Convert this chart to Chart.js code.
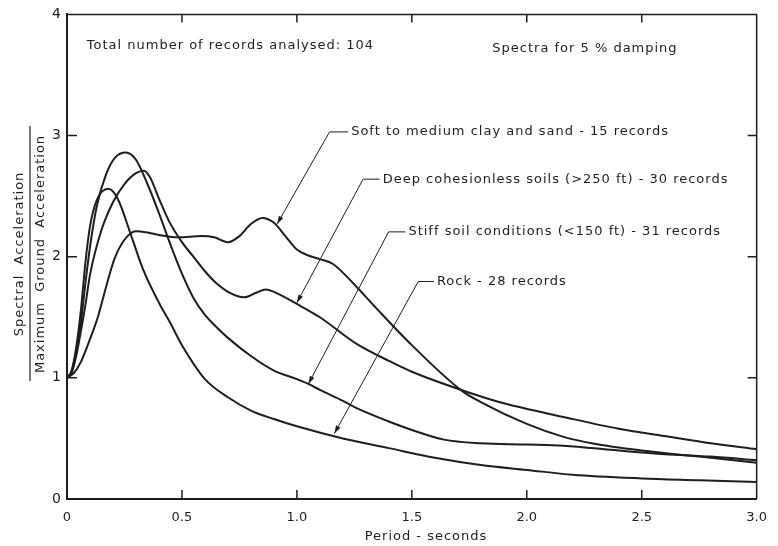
<!DOCTYPE html>
<html>
<head>
<meta charset="utf-8">
<script src="https://cdn.jsdelivr.net/npm/chart.js@4.4.0/dist/chart.umd.min.js"></script>
<style>
  html, body { margin: 0; padding: 0; background: #fff; }
  #wrap { width: 778px; height: 546px; }
</style>
</head>
<body>
<div id="wrap"><canvas id="myChart" width="778" height="546"></canvas></div>
<script>
// Normalised response spectra (Sa / max ground acc.)
const softPeriods = [0, 0.03, 0.06, 0.1, 0.134, 0.17, 0.206, 0.25, 0.3, 0.35, 0.4, 0.485, 0.585, 0.64, 0.7, 0.75, 0.8, 0.85, 0.9, 0.95, 1.0, 1.05, 1.1, 1.157, 1.26, 1.343, 1.5, 1.715, 1.8, 2.0, 2.16, 2.288, 2.5, 2.75, 3.0];
const softValues = [1.0, 1.04, 1.13, 1.32, 1.5, 1.75, 1.98, 2.14, 2.21, 2.2, 2.18, 2.16, 2.17, 2.16, 2.12, 2.17, 2.27, 2.32, 2.28, 2.17, 2.06, 2.01, 1.98, 1.94, 1.75, 1.58, 1.27, 0.897, 0.8, 0.62, 0.513, 0.458, 0.4, 0.35, 0.30];

const deepPeriods = [0, 0.02, 0.04, 0.06, 0.08, 0.1, 0.15, 0.2, 0.25, 0.3, 0.335, 0.36, 0.4, 0.442, 0.5, 0.55, 0.6, 0.65, 0.7, 0.77, 0.82, 0.865, 0.9, 1.0, 1.1, 1.26, 1.4, 1.5, 1.715, 1.9, 2.16, 2.4, 2.6, 2.8, 3.0];
const deepValues = [1.0, 1.04, 1.18, 1.38, 1.6, 1.85, 2.22, 2.45, 2.6, 2.69, 2.71, 2.66, 2.48, 2.3, 2.12, 2.0, 1.88, 1.78, 1.71, 1.665, 1.7, 1.73, 1.71, 1.61, 1.5, 1.28, 1.14, 1.05, 0.9, 0.79, 0.677, 0.58, 0.52, 0.46, 0.41];

const stiffPeriods = [0, 0.02, 0.04, 0.06, 0.08, 0.1, 0.13, 0.17, 0.21, 0.256, 0.3, 0.35, 0.4, 0.45, 0.5, 0.55, 0.6, 0.65, 0.7, 0.8, 0.9, 1.0, 1.05, 1.1, 1.2, 1.26, 1.4, 1.5, 1.64, 1.8, 2.0, 2.16, 2.4, 2.6, 2.8, 3.0];
const stiffValues = [1.0, 1.05, 1.22, 1.45, 1.78, 2.08, 2.42, 2.68, 2.82, 2.86, 2.8, 2.6, 2.36, 2.1, 1.86, 1.66, 1.52, 1.42, 1.33, 1.18, 1.06, 0.99, 0.95, 0.9, 0.81, 0.75, 0.64, 0.57, 0.49, 0.46, 0.45, 0.44, 0.4, 0.37, 0.35, 0.32];

const rockPeriods = [0, 0.02, 0.04, 0.06, 0.08, 0.1, 0.13, 0.18, 0.22, 0.28, 0.33, 0.4, 0.45, 0.5, 0.6, 0.7, 0.8, 0.9, 1.0, 1.2, 1.4, 1.6, 1.8, 2.0, 2.2, 2.5, 2.75, 3.0];
const rockValues = [1.0, 1.06, 1.25, 1.55, 1.95, 2.25, 2.47, 2.56, 2.48, 2.17, 1.9, 1.62, 1.45, 1.27, 0.99, 0.84, 0.73, 0.66, 0.6, 0.5, 0.42, 0.34, 0.28, 0.24, 0.2, 0.17, 0.155, 0.14];

const xTicks = [0, 0.5, 1.0, 1.5, 2.0, 2.5, 3.0];
const yTicks = [0, 1, 2, 3, 4];

const curveLabels = [
    'Soft to medium clay and sand - 15 records',
    'Deep cohesionless soils (>250 ft) - 30 records',
    'Stiff soil conditions (<150 ft) - 31 records',
    'Rock - 28 records'
];

const ink = '#1e1e1e';
const textFont = '13px "DejaVu Sans"';

// label text position, leader elbow and arrow target, all in data units
const leaders = [
    { label: 0, at: [1.236, 3.03], elbow: [1.142, 3.03], target: [0.914, 2.27] },
    { label: 1, at: [1.373, 2.64], elbow: [1.288, 2.64], target: [1.0, 1.62] },
    { label: 2, at: [1.485, 2.205], elbow: [1.399, 2.205], target: [1.05, 0.95] },
    { label: 3, at: [1.609, 1.795], elbow: [1.528, 1.795], target: [1.163, 0.54] }
];

const toPoints = (periods, values) => periods.map((t, i) => ({ x: t, y: values[i] }));

const lineStyle = {
    borderColor: ink,
    borderWidth: 2,
    pointRadius: 0,
    fill: false,
    cubicInterpolationMode: 'monotone'
};

const extras = {
    id: 'extras',
    afterDraw(chart) {
        const ctx = chart.ctx;
        const ca = chart.chartArea;
        const xs = chart.scales.x;
        const ys = chart.scales.y;
        const px = p => [xs.getPixelForValue(p[0]), ys.getPixelForValue(p[1])];

        ctx.save();
        ctx.strokeStyle = ink;
        ctx.fillStyle = ink;

        // frame (top and right)
        ctx.lineWidth = 1.5;
        ctx.beginPath();
        ctx.moveTo(ca.left, ca.top);
        ctx.lineTo(ca.right, ca.top);
        ctx.lineTo(ca.right, ca.bottom);
        ctx.stroke();

        // inward tick marks on all four sides
        ctx.beginPath();
        xTicks.slice(1, -1).forEach(v => {
            const x = xs.getPixelForValue(v);
            ctx.moveTo(x, ca.bottom); ctx.lineTo(x, ca.bottom - 9);
            ctx.moveTo(x, ca.top); ctx.lineTo(x, ca.top + 8);
        });
        yTicks.slice(1, -1).forEach(v => {
            const y = ys.getPixelForValue(v);
            ctx.moveTo(ca.left, y); ctx.lineTo(ca.left + 10, y);
            ctx.moveTo(ca.right, y); ctx.lineTo(ca.right - 9, y);
        });
        ctx.stroke();

        // header notes (lettering is widely spaced in the original)
        ctx.font = textFont;
        ctx.letterSpacing = '1px';
        ctx.textBaseline = 'middle';
        ctx.textAlign = 'left';
        let p = px([0.086, 3.74]);
        ctx.fillText('Total number of records analysed: 104', p[0], p[1]);
        p = px([1.85, 3.72]);
        ctx.fillText('Spectra for 5 % damping', p[0], p[1]);

        // curve labels with leader arrows
        ctx.lineWidth = 1;
        leaders.forEach(l => {
            const a = px(l.at), e = px(l.elbow), t = px(l.target);
            ctx.fillText(curveLabels[l.label], a[0], a[1]);
            ctx.beginPath();
            ctx.moveTo(a[0] - 3, e[1]);
            ctx.lineTo(e[0], e[1]);
            ctx.lineTo(t[0], t[1]);
            ctx.stroke();
            const dx = t[0] - e[0], dy = t[1] - e[1];
            const len = Math.hypot(dx, dy);
            const ux = dx / len, uy = dy / len;
            ctx.beginPath();
            ctx.moveTo(t[0], t[1]);
            ctx.lineTo(t[0] - ux * 8 - uy * 2.5, t[1] - uy * 8 + ux * 2.5);
            ctx.lineTo(t[0] - ux * 8 + uy * 2.5, t[1] - uy * 8 - ux * 2.5);
            ctx.closePath();
            ctx.fill();
        });

        // y axis title as a fraction
        ctx.save();
        ctx.translate(30, 254);
        ctx.rotate(-Math.PI / 2);
        ctx.textAlign = 'center';
        ctx.fillText('Spectral  Acceleration', 0, -10);
        ctx.fillText('Maximum  Ground  Acceleration', 0, 11);
        ctx.lineWidth = 1.2;
        ctx.beginPath();
        ctx.moveTo(-127, 0);
        ctx.lineTo(128, 0);
        ctx.stroke();
        ctx.restore();

        // x axis title
        ctx.textAlign = 'center';
        ctx.fillText('Period - seconds', 426, 537);
        ctx.restore();
    }
};

const ctx = document.getElementById('myChart').getContext('2d');
new Chart(ctx, {
    type: 'line',
    data: {
        datasets: [
            Object.assign({ label: curveLabels[0], data: toPoints(softPeriods, softValues) }, lineStyle),
            Object.assign({ label: curveLabels[1], data: toPoints(deepPeriods, deepValues) }, lineStyle),
            Object.assign({ label: curveLabels[2], data: toPoints(stiffPeriods, stiffValues) }, lineStyle),
            Object.assign({ label: curveLabels[3], data: toPoints(rockPeriods, rockValues) }, lineStyle)
        ]
    },
    options: {
        responsive: false,
        animation: false,
        layout: { padding: { left: 0, top: 13, right: 12, bottom: 0 } },
        plugins: { legend: { display: false }, tooltip: { enabled: false } },
        scales: {
            x: {
                type: 'linear',
                min: 0,
                max: 3,
                afterBuildTicks: s => { s.ticks = xTicks.map(v => ({ value: v })); },
                afterFit: s => { s.height = 47; },
                grid: { drawOnChartArea: false, drawTicks: false },
                border: { display: true, color: ink, width: 2 },
                ticks: {
                    padding: 11,
                    maxRotation: 0,
                    color: ink,
                    font: { family: 'DejaVu Sans', size: 13 },
                    callback: v => (v === 0 ? '0' : v.toFixed(1))
                }
            },
            y: {
                min: 0,
                max: 4,
                afterBuildTicks: s => { s.ticks = yTicks.map(v => ({ value: v })); },
                afterFit: s => { s.width = 67; },
                grid: { drawOnChartArea: false, drawTicks: false },
                border: { display: true, color: ink, width: 2 },
                ticks: {
                    padding: 6,
                    color: ink,
                    font: { family: 'DejaVu Sans', size: 14 },
                    callback: v => String(v)
                }
            }
        }
    },
    plugins: [extras]
});
</script>
</body>
</html>
